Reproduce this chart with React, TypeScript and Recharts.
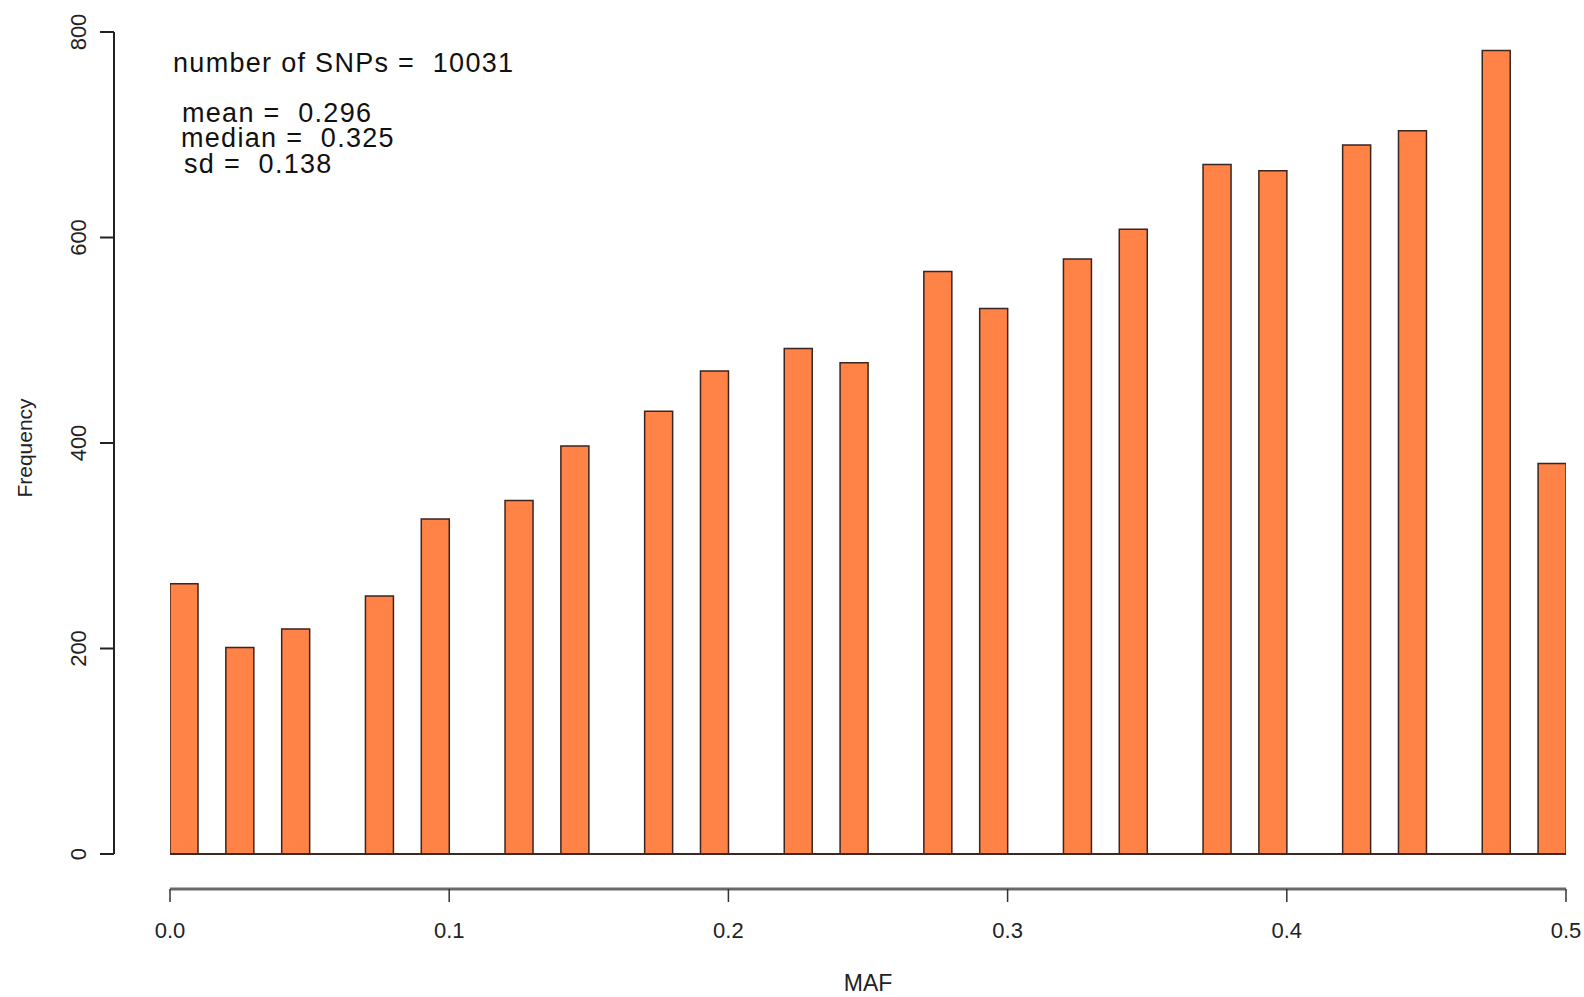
import { BarChart, Bar, XAxis, YAxis, ReferenceLine } from 'recharts';

// MAF histogram: 50 bins of width 0.01, counts
const binCounts = [
  263, 0, 201, 0, 219, 0, 0, 251, 0, 326,
  0, 0, 344, 0, 397, 0, 0, 431, 0, 470,
  0, 0, 492, 0, 478, 0, 0, 567, 0, 531,
  0, 0, 579, 0, 608, 0, 0, 671, 0, 665,
  0, 0, 690, 0, 704, 0, 0, 782, 0, 380,
];
const binWidth = 0.01;
const xTicks = [0, 0.1, 0.2, 0.3, 0.4, 0.5];
const yTicks = [0, 200, 400, 600, 800];
const statLines = ['mean =  0.296', 'median =  0.325', 'sd =  0.138'];
const snpLabel = 'number of SNPs =  10031';

const FONT = '"Liberation Sans", Arial, sans-serif';

// bin centre on the MAF scale
const data = binCounts.map((count, i) => ({
  mid: +((i + 0.5) * binWidth).toFixed(3),
  count,
}));

const RotatedTick = (props: any) => {
  const { x, y, payload } = props;
  return (
    <text
      x={0}
      y={0}
      transform={`translate(${x - 12},${y}) rotate(-90)`}
      textAnchor="middle"
      fontSize={22}
      fill="#222"
      fontFamily={FONT}
    >
      {payload.value}
    </text>
  );
};

export default function App() {
  return (
    <div style={{ position: 'absolute', left: 0, top: 0, width: 1584, height: 997, background: '#fff' }}>
      <BarChart
        width={1584}
        height={997}
        data={data}
        margin={{ top: 32, right: 18, bottom: 0, left: 0 }}
        barCategoryGap={0}
        barGap={0}
      >
        {/* empty strip that pushes the MAF axis below the bars, like R's detached axis */}
        <XAxis xAxisId="gap" dataKey="mid" type="category" height={35} tick={false} axisLine={false} tickLine={false} />
        <XAxis
          xAxisId="maf"
          dataKey="mid"
          type="number"
          domain={[0, 0.5]}
          allowDataOverflow
          ticks={xTicks}
          height={108}
          axisLine={{ stroke: '#6a6a6a', strokeWidth: 3 }}
          tickLine={{ stroke: '#333', strokeWidth: 1.5 }}
          tickSize={13}
          tickMargin={20}
          tick={{ fontSize: 22, fill: '#222', fontFamily: FONT }}
          tickFormatter={(v: number) => v.toFixed(1)}
          label={{ value: 'MAF', position: 'insideBottom', offset: 6, fontSize: 23, fill: '#222', fontFamily: FONT }}
        />
        <YAxis yAxisId="freq" width={56} domain={[0, 800]} allowDataOverflow tick={false} axisLine={false} tickLine={false} />
        <YAxis
          yAxisId="scale"
          width={114}
          domain={[0, 800]}
          allowDataOverflow
          ticks={yTicks}
          axisLine={{ stroke: '#222', strokeWidth: 2 }}
          tickLine={{ stroke: '#222', strokeWidth: 2 }}
          tickSize={14}
          tick={<RotatedTick />}
        />
        <ReferenceLine xAxisId="maf" yAxisId="freq" y={0} stroke="#3a2a26" strokeWidth={2} />
        <Bar
          xAxisId="maf"
          yAxisId="freq"
          dataKey="count"
          fill="#FF8247"
          stroke="#3a2520"
          strokeWidth={1.5}
          isAnimationActive={false}
        />
      </BarChart>
      <svg width={1584} height={997} style={{ position: 'absolute', left: 0, top: 0, pointerEvents: 'none' }}>
        <g fontFamily={FONT} fill="#111" fontSize={27} letterSpacing={1.3}>
          <text x={173} y={72} xmlSpace="preserve">{snpLabel}</text>
          <text x={182} y={122} xmlSpace="preserve">{statLines[0]}</text>
          <text x={181} y={147} xmlSpace="preserve">{statLines[1]}</text>
          <text x={184} y={173} xmlSpace="preserve">{statLines[2]}</text>
        </g>
        <text
          transform="translate(32,448) rotate(-90)"
          textAnchor="middle"
          fontFamily={FONT}
          fontSize={21}
          fill="#222"
        >
          Frequency
        </text>
      </svg>
    </div>
  );
}
